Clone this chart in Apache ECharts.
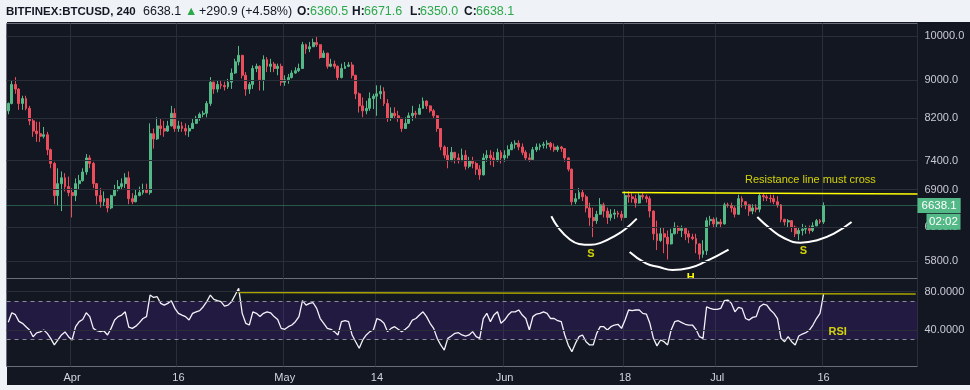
<!DOCTYPE html>
<html><head><meta charset="utf-8">
<script src="https://cdn.jsdelivr.net/npm/echarts@6.0.0/dist/echarts.min.js"></script>
<style>html,body{margin:0;padding:0;background:#eff2f6;}#c{width:970px;height:390px;}</style>
</head><body><div id="c"></div>
<script>
// ---- axis ticks ----
const tickIndex = [18, 48, 78, 104, 140, 174, 200, 230];
const tickLabels = ['Apr', '16', 'May', '14', 'Jun', '18', 'Jul', '16'];
const slotCount = 257;
const priceTicks = [10000, 9000, 8200, 7400, 6900, 6300, 5800];
const rsiTicks = [80, 40];
const rsiBands = [70, 30];
const lastPrice = 6638.1;
const timerText = '02:02';
// ---- 12h candles (Mar 23 -> Jul 16) ----
const opens = [
8350,8500,8900,8800,8500,8600,8400,8150,7950,7900,
7850,7880,7600,7350,6800,7000,7100,6950,6850,6800,
7000,7050,7200,7450,7350,7000,6800,6700,6750,6600,
6800,6900,6950,7000,7100,6750,6700,6800,6850,6900,
6850,7900,7800,8050,8000,7950,8050,8300,8000,8050,
8000,7950,8000,8100,8200,8280,8300,8500,8950,8800,
8900,8880,8850,8950,9150,9400,9550,9100,8800,8900,
9250,9300,9000,9450,9300,9350,9250,9300,8950,9000,
9050,9150,9200,9250,9800,9700,9750,9850,9800,9500,
9600,9300,9350,9300,9050,9250,9300,9330,9100,8700,
8450,8350,8400,8600,8650,8700,8750,8500,8200,8300,
8250,8200,8000,8100,8250,8300,8280,8400,8550,8450,
8350,8250,8000,7650,7500,7400,7550,7450,7400,7500,
7300,7400,7350,7250,7150,7450,7500,7450,7400,7550,
7450,7500,7600,7700,7720,7650,7550,7450,7420,7600,
7650,7680,7700,7720,7650,7600,7650,7620,7450,7250,
6700,6750,6850,6780,6600,6450,6400,6500,6650,6550,
6450,6500,6520,6500,6450,6800,6780,6750,6680,6800,
6780,6750,6550,6200,6100,6200,6150,6050,6200,6300,
6250,6280,6200,6150,6130,6050,5900,5950,6400,6420,
6350,6380,6350,6650,6640,6600,6500,6750,6700,6650,
6550,6600,6580,6800,6780,6760,6750,6700,6650,6420,
6380,6400,6300,6200,6250,6270,6280,6250,6320,6400,
6380];
const closes = [
8500,8900,8800,8500,8600,8400,8150,7950,7900,7850,
7880,7600,7350,6800,7000,7100,6950,6850,6800,7000,
7050,7200,7450,7350,7000,6800,6700,6750,6600,6800,
6900,6950,7000,7100,6750,6700,6800,6850,6900,6850,
7900,7800,8050,8000,7950,8050,8300,8000,8050,8000,
7950,8000,8100,8200,8280,8300,8500,8950,8800,8900,
8880,8850,8950,9150,9400,9550,9100,8800,8900,9250,
9300,9000,9450,9300,9350,9250,9300,8950,9000,9050,
9150,9200,9250,9800,9700,9750,9850,9800,9500,9600,
9300,9350,9300,9050,9250,9300,9330,9100,8700,8450,
8350,8400,8600,8650,8700,8750,8500,8200,8300,8250,
8200,8000,8100,8250,8300,8280,8400,8550,8450,8350,
8250,8000,7650,7500,7400,7550,7450,7400,7500,7300,
7400,7350,7250,7150,7450,7500,7450,7400,7550,7450,
7500,7600,7700,7720,7650,7550,7450,7420,7600,7650,
7680,7700,7720,7650,7600,7650,7620,7450,7250,6700,
6750,6850,6780,6600,6450,6400,6500,6650,6550,6450,
6500,6520,6500,6450,6800,6780,6750,6680,6800,6780,
6750,6550,6200,6100,6200,6150,6050,6200,6300,6250,
6280,6200,6150,6130,6050,5900,5950,6400,6420,6350,
6380,6350,6650,6640,6600,6500,6750,6700,6650,6550,
6600,6580,6800,6780,6760,6750,6700,6650,6420,6380,
6400,6300,6200,6250,6270,6280,6250,6320,6400,6380,
6638.1];
const highs = [
8520,8990,9060,8820,8660,8660,8450,8185,8130,8130,
8030,7935,7620,7380,7265,7210,7180,7120,6925,7090,
7150,7265,7520,7500,7380,7010,6925,6870,6760,6815,
6980,7060,7090,7180,7210,6840,6900,6950,7000,7000,
8100,8000,8220,8185,8150,8150,8450,8400,8150,8130,
8100,8065,8185,8250,8315,8350,8550,9060,8960,8990,
8990,8960,9020,9250,9470,9770,9560,9170,8950,9320,
9360,9320,9550,9510,9470,9400,9360,9360,9100,9130,
9210,9280,9360,9865,9825,9865,9945,9985,9810,9665,
9610,9470,9430,9320,9360,9395,9395,9395,9110,8730,
8625,8555,8730,8700,8880,8880,8840,8590,8420,8420,
8350,8210,8220,8315,8450,8350,8485,8625,8560,8460,
8385,8260,8010,7680,7650,7650,7560,7530,7620,7590,
7470,7470,7380,7320,7530,7590,7590,7560,7620,7590,
7590,7680,7745,7775,7775,7715,7590,7530,7650,7715,
7715,7745,7775,7745,7715,7680,7670,7630,7460,7260,
6840,6925,6900,6815,6685,6605,6555,6760,6685,6605,
6580,6580,6555,6555,6870,6870,6840,6815,6840,6840,
6815,6790,6560,6400,6300,6300,6250,6275,6375,6325,
6325,6290,6250,6200,6200,6060,6105,6450,6475,6450,
6450,6425,6685,6685,6685,6630,6815,6790,6710,6660,
6660,6660,6840,6840,6815,6815,6815,6790,6660,6430,
6425,6410,6325,6300,6350,6325,6325,6375,6425,6425,
6690];
const lows = [
8280,8480,8700,8370,8370,8360,8065,7840,7745,7745,
7810,7500,7265,6660,6640,6550,6870,6790,6450,6710,
6900,7035,7150,7265,6925,6660,6605,6630,6530,6580,
6790,6870,6900,6925,6660,6660,6690,6790,6815,6840,
6815,7620,7780,7870,7840,7935,8040,7935,7935,7935,
7870,7840,7990,8090,8150,8220,8220,8450,8700,8730,
8805,8770,8805,8805,9130,9320,9030,8660,8700,8805,
9170,8770,8770,9170,9170,9170,9100,8870,8870,8915,
9030,9130,9170,9240,9585,9625,9745,9745,9470,9490,
9245,9280,9245,8990,9030,9245,9280,9030,8590,8315,
8220,8280,8350,8385,8250,8590,8450,8130,8150,8185,
8130,7935,7990,8090,8150,8185,8270,8390,8385,8315,
8185,7935,7590,7440,7265,7390,7350,7350,7390,7240,
7265,7265,7150,7065,7140,7380,7320,7290,7380,7350,
7380,7440,7590,7620,7590,7500,7410,7380,7410,7560,
7590,7620,7620,7590,7560,7560,7560,7380,7210,6650,
6660,6740,6710,6530,6320,6150,6350,6490,6450,6350,
6400,6425,6450,6400,6440,6685,6685,6605,6670,6735,
6685,6450,6105,5960,6080,5915,5825,6040,6190,6200,
6150,6105,6060,6105,5915,5825,5850,5890,6325,6300,
6300,6285,6340,6605,6530,6450,6490,6605,6580,6475,
6500,6530,6530,6710,6710,6685,6660,6605,6375,6325,
6300,6225,6150,6105,6175,6200,6200,6225,6315,6350,
6350];
const rsi = [
48,58,56,49,47,43.5,40,33,37,38,
40,36.5,31,24.4,29.6,34.8,38,33,29.6,43.5,
48.7,51,58,54,41.7,39.3,38.3,39,34.8,41.7,
50.4,54,55.6,59,43,41.7,44,47.7,52,54,
76.5,74,74.8,67.8,66,67.8,70.6,62.6,57.4,55.6,
54,50.4,57.4,59,60.2,64.3,69.6,76.5,72,70.6,
69.6,65,66,69.6,76.5,83.5,57.4,47,45.2,59,
57.4,54,57.4,59,58,54,51,41.7,40.7,43.5,
45.2,48.7,54,70.6,66,67.8,68.5,62.6,52,47,
41.7,40.7,38.3,34.8,48.7,49.7,48.7,34.8,27.8,20.9,
29.6,34.8,38.3,40,52,50.4,47,38.3,41.7,43.5,
40.7,38.3,40.7,44,50.4,52,55.6,59,54,47,
41.7,31.3,24.4,19.1,31.3,33.7,36.5,37.2,34.8,33.7,
34.8,38.3,33,31.3,52,57.4,48.7,55.6,59,47,
50.4,55.6,59,59,60.9,55.6,52,40,54,56.7,
57.4,59,57.4,52,52,49.7,48.7,34.8,24,17.4,
26,33,34.8,27.8,24.4,24.4,36.5,43.5,43.5,40,
43.5,45.2,46,41.7,50.4,60.9,60.2,60.9,60.9,57.4,
56.7,47,31.3,23.4,29.6,27.8,24.4,40,48.7,49.7,
47.7,46,45.2,45.2,40.7,33,31.3,64.3,62.6,61.6,
61.6,62.6,70.6,71.3,67.8,59,63.6,62.6,52,50.4,
53.2,54,64.3,67,66,60.9,57.4,52,31.3,27.8,
33,27.8,24.4,33.7,35.8,37.2,40,45.2,52,57.4,
77.6];
// ---- drawn annotations (slot index, price) ----
const resistance = [[173.2, 6850], [256.5, 6828]];
const rsiTrend = [[65, 79.3], [256, 77.6]];
const leftShoulder = [[153.2,6469],[155.4,6276],[158.2,6126],[161.0,6050],[164.3,6036],[167.6,6076],[171.4,6177],[174.2,6276],[177.3,6431]];
const headArc = [[175.3,5932],[179.9,5772],[183.6,5721],[187.4,5680],[192.1,5707],[196.8,5800],[203.2,5968]];
const rightShoulder = [[211.3,6457],[215.0,6276],[218.8,6137],[223.5,6068],[228.2,6103],[232.9,6201],[237.9,6379]];
const noteLabels = [
  {name: 'S', value: [164.4, 5907], size: 11, weight: 'bold'},
  {name: 'S', value: [224.3, 5950], size: 11, weight: 'bold'},
  {name: 'Resistance line must cross', value: [226.3, 7066], size: 11, weight: 'normal'}
];
const hLabel = {name: 'H', value: [192.5, 5577]};
const rsiLabel = {name: 'RSI', value: [234, 38]};
// ---- header ----
const headerItems = [
  {t: 'BITFINEX:BTCUSD, 240', x: 6, b: true, c: '#131722', s: 11.5},
  {t: '6638.1', x: 143, b: false, c: '#131722', s: 12.5},
  {t: '\u25B2', x: 185, b: false, c: '#2ca84a', s: 12.5},
  {t: '+290.9 (+4.58%)', x: 199, b: false, c: '#131722', s: 12.5},
  {t: 'O:', x: 297, b: true, c: '#131722', s: 12},
  {t: '6360.5', x: 310, b: false, c: '#2ca84a', s: 12.5},
  {t: 'H:', x: 352, b: true, c: '#131722', s: 12},
  {t: '6671.6', x: 364, b: false, c: '#2ca84a', s: 12.5},
  {t: 'L:', x: 410, b: true, c: '#131722', s: 12},
  {t: '6350.0', x: 420, b: false, c: '#2ca84a', s: 12.5},
  {t: 'C:', x: 464, b: true, c: '#131722', s: 12},
  {t: '6638.1', x: 476, b: false, c: '#2ca84a', s: 12.5}
];

const FONT = '"Liberation Sans", Arial, sans-serif';
const GRID_C = '#2a2e39';
const BORDER_C = '#6b6e79';
const UP = '#53b987', DOWN = '#eb4d5c';
const BG = '#131722';
const cats = Array.from({length: slotCount}, (_, i) => i);
const isTick = (i) => tickIndex.indexOf(i) >= 0;
const candleData = opens.map((o, i) => [o, closes[i], lows[i], highs[i]]);

const chart = echarts.init(document.getElementById('c'), null, {renderer: 'canvas', width: 970, height: 390});

const G = {left: 6.5, width: 911};
const option = {
  animation: false,
  backgroundColor: 'transparent',
  textStyle: {fontFamily: FONT},
  grid: [
    {left: G.left, width: G.width, top: 23.5, height: 255, show: true, borderColor: BORDER_C, borderWidth: 1, backgroundColor: 'transparent'},
    {left: G.left, width: G.width, top: 278.5, height: 88, show: true, borderColor: BORDER_C, borderWidth: 1, backgroundColor: 'transparent'}
  ],
  xAxis: [
    {type: 'category', gridIndex: 0, data: cats, boundaryGap: true,
     axisLine: {show: false}, axisTick: {show: false}, axisLabel: {show: false},
     splitLine: {show: true, interval: (i) => isTick(i), lineStyle: {color: GRID_C, width: 1}}},
    {type: 'category', gridIndex: 1, data: cats, boundaryGap: true,
     axisLine: {show: false}, axisTick: {show: false},
     axisLabel: {show: true, interval: (i) => isTick(i), formatter: (v, i) => tickLabels[tickIndex.indexOf(Number(v))] || '',
       color: '#d1d4dc', fontSize: 11, margin: 6, fontFamily: FONT},
     splitLine: {show: true, interval: (i) => isTick(i), lineStyle: {color: GRID_C, width: 1}}},
    {type: 'value', gridIndex: 0, min: -0.5, max: slotCount - 0.5, show: false}
  ],
  yAxis: [
    {type: 'log', logBase: 10, gridIndex: 0, min: 5563.8, max: 10315, show: false},
    {type: 'value', gridIndex: 1, min: 1.88, max: 93.8, show: false}
  ],
  series: [
    {
      name: 'priceGrid', type: 'line', xAxisIndex: 0, yAxisIndex: 0, data: [], z: 1, silent: true,
      markLine: {
        silent: true, symbol: ['none', 'none'], animation: false,
        data: priceTicks.map(v => ({yAxis: v, lineStyle: {color: GRID_C, type: 'solid', width: 1},
          label: {show: true, position: 'end', distance: 7, formatter: v.toFixed(1), color: '#c8cbd3', fontSize: 11, fontFamily: FONT}}))
          .concat([{yAxis: lastPrice, lineStyle: {color: '#3f9a6e', type: 'dotted', width: 1},
            label: {show: true, position: 'end', distance: 0, formatter: lastPrice.toFixed(1), color: '#ffffff',
              backgroundColor: UP, padding: [2, 4, 1, 4], fontSize: 11.5, fontFamily: FONT}}])
      }
    },
    {
      name: 'BTCUSD', type: 'candlestick', xAxisIndex: 0, yAxisIndex: 0, data: candleData, barWidth: 2.4, z: 2,
      itemStyle: {color: UP, color0: DOWN, borderColor: UP, borderColor0: DOWN, borderWidth: 1},
      silent: true
    },
    {name: 'resistance', type: 'line', xAxisIndex: 2, yAxisIndex: 0, data: resistance, symbol: 'none', z: 4,
     lineStyle: {color: '#ffff00', width: 1.5}, silent: true},
    {name: 'leftShoulder', type: 'line', xAxisIndex: 2, yAxisIndex: 0, data: leftShoulder, symbol: 'none', smooth: 0.5, z: 4,
     lineStyle: {color: '#ffffff', width: 2}, silent: true},
    {name: 'head', type: 'line', xAxisIndex: 2, yAxisIndex: 0, data: headArc, symbol: 'none', smooth: 0.5, z: 4,
     lineStyle: {color: '#ffffff', width: 2}, silent: true},
    {name: 'rightShoulder', type: 'line', xAxisIndex: 2, yAxisIndex: 0, data: rightShoulder, symbol: 'none', smooth: 0.5, z: 4,
     lineStyle: {color: '#ffffff', width: 2}, silent: true},
    {name: 'notes', type: 'scatter', xAxisIndex: 2, yAxisIndex: 0, symbolSize: 0, z: 5, silent: true,
     data: noteLabels.map(n => ({name: n.name, value: n.value,
       label: {show: true, position: 'inside', formatter: n.name, color: '#ffff00', fontSize: n.size, fontWeight: n.weight, fontFamily: FONT}}))},
    {
      name: 'rsiGrid', type: 'line', xAxisIndex: 1, yAxisIndex: 1, data: [], z: 1, silent: true,
      markLine: {
        silent: true, symbol: ['none', 'none'], animation: false,
        data: rsiTicks.map(v => ({yAxis: v, lineStyle: {color: GRID_C, type: 'solid', width: 1},
          label: {show: true, position: 'end', distance: 7, formatter: v.toFixed(4), color: '#c8cbd3', fontSize: 11, fontFamily: FONT}}))
          .concat(rsiBands.map(v => ({yAxis: v, lineStyle: {color: '#8a8d96', type: [4, 4], width: 1}, label: {show: false}})))
      },
      markArea: {silent: true, itemStyle: {color: 'rgba(105, 45, 205, 0.18)'},
        data: [[{yAxis: rsiBands[1]}, {yAxis: rsiBands[0]}]]}
    },
    {name: 'RSI', type: 'line', xAxisIndex: 1, yAxisIndex: 1, data: rsi, symbol: 'none', z: 3, silent: true,
     lineStyle: {color: '#f4f2fb', width: 1.3}},
    {name: 'rsiTrend', type: 'line', xAxisIndex: 1, yAxisIndex: 1, data: rsiTrend, symbol: 'none', z: 4, silent: true,
     lineStyle: {color: '#aaa400', width: 1.5}},
    {name: 'rsiLabel', type: 'scatter', xAxisIndex: 1, yAxisIndex: 1, symbolSize: 0, z: 5, silent: true,
     data: [{name: rsiLabel.name, value: rsiLabel.value,
       label: {show: true, position: 'inside', formatter: rsiLabel.name, color: '#ffff00', fontSize: 11, fontWeight: 'bold', fontFamily: FONT}}]}
  ],
  graphic: {elements: [
    {id: 'bg', type: 'rect', z: -100, shape: {x: 7, y: 22, width: 963, height: 363}, style: {fill: BG}, silent: true}
  ].concat(headerItems.map((h, k) => ({
    id: 'hd' + k, type: 'text', x: h.x, y: 12, z: 10, silent: true,
    style: {text: h.t, fill: h.c, font: (h.b ? 'bold ' : '') + h.s + 'px ' + FONT, textVerticalAlign: 'middle', verticalAlign: 'middle'}
  })))}
};
chart.setOption(option);

const lp = chart.convertToPixel({yAxisIndex: 0}, lastPrice);
const hp = chart.convertToPixel({xAxisIndex: 2, yAxisIndex: 0}, hLabel.value);
const rsiTop = 278.5;
chart.setOption({graphic: {elements: [
  {id: 'hText', type: 'text', z: -50, x: hp[0], y: hp[1], silent: true,
   style: {text: hLabel.name, fill: '#ffff00', font: 'bold 11px ' + FONT, align: 'center', verticalAlign: 'middle', textAlign: 'center', textVerticalAlign: 'middle'}},
  {id: 'hCover', type: 'rect', z: -40, shape: {x: 7, y: rsiTop + 0.5, width: 910, height: 385 - rsiTop - 0.5}, style: {fill: BG}, silent: true},
  {id: 'timerBox', type: 'rect', z: 100, shape: {x: 926.5, y: lp + 8.3, width: 34, height: 16}, style: {fill: UP}, silent: true},
  {id: 'timerText', type: 'text', z: 101, x: 943.5, y: lp + 16.5, silent: true,
   style: {text: timerText, fill: '#ffffff', font: '11.5px ' + FONT, align: 'center', verticalAlign: 'middle', textAlign: 'center', textVerticalAlign: 'middle'}}
]}});
</script>
</body></html>
